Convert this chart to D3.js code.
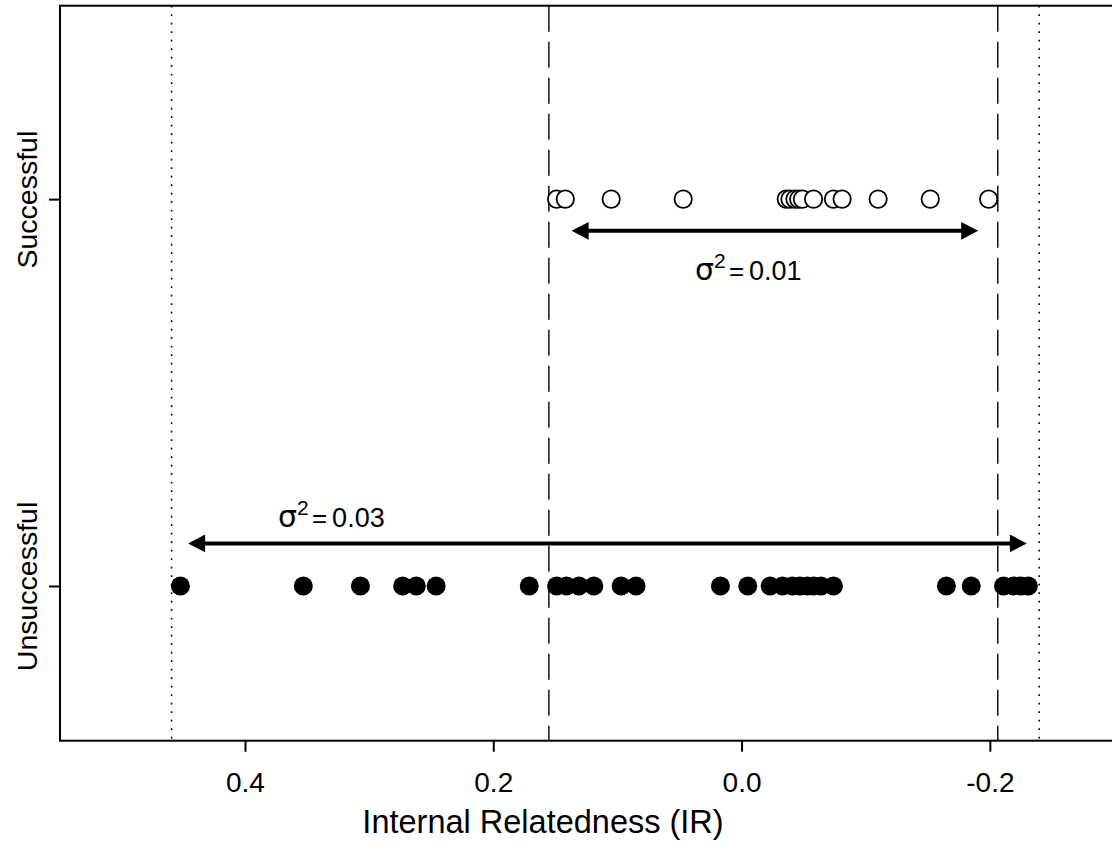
<!DOCTYPE html>
<html>
<head>
<meta charset="utf-8">
<script src="https://cdn.jsdelivr.net/npm/d3@7"></script>
<style>
  html, body { margin: 0; padding: 0; background: #fff; }
  svg { display: block; font-family: "Liberation Sans", Arial, Helvetica, sans-serif; }
</style>
</head>
<body>
<svg id="chart" width="1112" height="867"></svg>
<script>
// Internal relatedness (IR) of individuals, by outcome group
const groups = ["Unsuccessful", "Successful"];
const groupLevels = [1, 2];

const successfulIR = [0.149, 0.142, 0.105, 0.047, -0.036, -0.039, -0.043, -0.046,
  -0.049, -0.058, -0.074, -0.081, -0.110, -0.152, -0.199];

const unsuccessfulIR = [0.452, 0.353, 0.307, 0.273, 0.262, 0.246, 0.171, 0.149,
  0.141, 0.131, 0.119, 0.097, 0.085, 0.017, -0.005, -0.023, -0.033, -0.041,
  -0.047, -0.053, -0.058, -0.064, -0.074, -0.165, -0.185, -0.211, -0.219,
  -0.225, -0.231];

// Reference lines (dashed: successful range, dotted: unsuccessful range)
const successfulBoundsIR = [0.1552, -0.2064];
const unsuccessfulBoundsIR = [0.4591, -0.2397];

// Spread arrows and their variance labels
const successfulArrowIR = [0.1369, -0.1906];
const unsuccessfulArrowIR = [0.4458, -0.2298];
const varianceLabels = ["0.01", "0.03"];

const xTickValues = [0.4, 0.2, 0.0, -0.2];
const xTickLabels = ["0.4", "0.2", "0.0", "-0.2"];
const xTitle = "Internal Relatedness (IR)";

const svg = d3.select("#chart");

const plot = { left: 60, right: 1114, top: 5.7, bottom: 740.7 };

const x = d3.scaleLinear().domain([0.549, -0.300]).range([plot.left, plot.right]);
const y = d3.scaleLinear().domain([0.6, 2.5]).range([plot.bottom, plot.top]);

// reference lines
function vline(v, dash) {
  svg.append("line")
    .attr("x1", x(v)).attr("x2", x(v))
    .attr("y1", plot.top).attr("y2", plot.bottom)
    .attr("stroke", "#000")
    .attr("stroke-width", dash === "dot" ? 1.6 : 1.4)
    .attr("stroke-dasharray", dash === "dot" ? "1.8,6.7" : "26,10");
}
successfulBoundsIR.forEach(v => vline(v, "dash"));
unsuccessfulBoundsIR.forEach(v => vline(v, "dot"));

// frame
svg.append("rect")
  .attr("x", plot.left).attr("y", plot.top)
  .attr("width", plot.right - plot.left + 4)
  .attr("height", plot.bottom - plot.top)
  .attr("fill", "none").attr("stroke", "#000").attr("stroke-width", 2);

// x axis
const xAxis = d3.axisBottom(x)
  .tickValues(xTickValues)
  .tickSize(11)
  .tickPadding(20)
  .tickFormat((d, i) => xTickLabels[i]);
const gx = svg.append("g").attr("transform", `translate(0,${plot.bottom})`).call(xAxis);
gx.select(".domain").remove();
gx.selectAll(".tick line").attr("stroke", "#000").attr("stroke-width", 2);
gx.selectAll(".tick text")
  .attr("fill", "#000")
  .attr("font-size", 28)
  .attr("font-family", "Liberation Sans, Arial, sans-serif");

// y axis (category ticks with rotated labels)
const yAxis = d3.axisLeft(y)
  .tickValues(groupLevels)
  .tickSize(11)
  .tickFormat((d, i) => groups[i]);
const gy = svg.append("g").attr("transform", `translate(${plot.left},0)`).call(yAxis);
gy.select(".domain").remove();
gy.selectAll(".tick line").attr("stroke", "#000").attr("stroke-width", 2);
gy.selectAll(".tick text")
  .attr("fill", "#000")
  .attr("font-size", 28.5)
  .attr("font-family", "Liberation Sans, Arial, sans-serif")
  .attr("text-anchor", "middle")
  .attr("x", 0).attr("dy", 0)
  .attr("transform", "translate(-23.5,0) rotate(-90)");

// x axis title
svg.append("text")
  .attr("x", 543).attr("y", 833)
  .attr("text-anchor", "middle")
  .attr("font-size", 32.5)
  .attr("fill", "#000")
  .text(xTitle);

// points
svg.append("g").selectAll("circle")
  .data(successfulIR).join("circle")
  .attr("cx", d => x(d)).attr("cy", y(2))
  .attr("r", 8.7)
  .attr("fill", "#fff").attr("stroke", "#000").attr("stroke-width", 1.8);

svg.append("g").selectAll("circle")
  .data(unsuccessfulIR).join("circle")
  .attr("cx", d => x(d)).attr("cy", y(1))
  .attr("r", 9.5)
  .attr("fill", "#000");

// double-headed arrows
function arrow(range, level) {
  const yy = y(level);
  const x1 = x(range[0]), x2 = x(range[1]);
  const head = 17, half = 8.8;
  const g = svg.append("g");
  g.append("line")
    .attr("x1", x1 + head - 2).attr("x2", x2 - head + 2)
    .attr("y1", yy).attr("y2", yy)
    .attr("stroke", "#000").attr("stroke-width", 4);
  g.append("path")
    .attr("d", `M${x1},${yy}L${x1 + head},${yy - half}L${x1 + head},${yy + half}Z`)
    .attr("fill", "#000");
  g.append("path")
    .attr("d", `M${x2},${yy}L${x2 - head},${yy - half}L${x2 - head},${yy + half}Z`)
    .attr("fill", "#000");
}
arrow(successfulArrowIR, 1.918);
arrow(unsuccessfulArrowIR, 1.110);

// variance labels: sigma^2 = value
function sigmaLabel(xv, yv, value) {
  const x0 = x(xv), y0 = y(yv);
  const t = svg.append("text").attr("fill", "#000");
  t.append("tspan")
    .attr("x", x0).attr("y", y0)
    .attr("font-family", "DejaVu Sans, sans-serif")
    .attr("font-size", 30)
    .text("σ");
  t.append("tspan")
    .attr("x", x0 + 19).attr("y", y0 - 12)
    .attr("font-size", 21)
    .text("2");
  t.append("tspan")
    .attr("x", x0 + 34).attr("y", y0)
    .attr("font-size", 26)
    .text("=");
  t.append("tspan")
    .attr("x", x0 + 54).attr("y", y0)
    .attr("font-size", 27)
    .text(value);
}
sigmaLabel(0.0376, 1.791, varianceLabels[0]);
sigmaLabel(0.3733, 1.1525, varianceLabels[1]);
</script>
</body>
</html>
